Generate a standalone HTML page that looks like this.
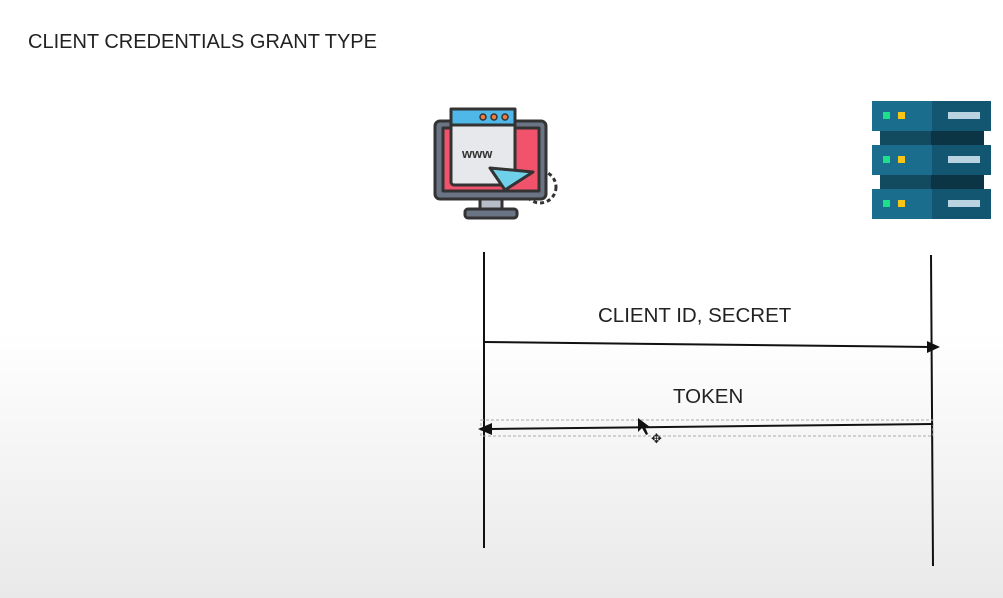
<!DOCTYPE html>
<html><head><style>
body{margin:0;width:1003px;height:598px;overflow:hidden;background:linear-gradient(#fff 0,#fff 330px,#ececec 560px,#e9e9e9 598px);font-family:"Liberation Sans",sans-serif;}
.t{position:absolute;color:#222;font-size:20.5px;}
</style></head><body>
<div class="t" style="left:28px;top:31px;font-size:20px;">CLIENT CREDENTIALS GRANT TYPE</div>
<svg width="1003" height="598" style="position:absolute;left:0;top:0">
<!-- computer icon -->
<circle cx="540" cy="187" r="16" fill="none" stroke="#333" stroke-width="3" stroke-dasharray="4 3"/>
<g stroke="#333" stroke-width="3" stroke-linejoin="round">
<rect x="435" y="121" width="111" height="78" rx="5" fill="#6b7484"/>
<rect x="443" y="128" width="96" height="63" fill="#f0536b"/>
<rect x="480" y="199" width="22" height="11" fill="#b8bec8"/>
<rect x="465" y="209" width="52" height="9" rx="3" fill="#6b7484"/>
<rect x="451" y="109" width="64" height="76" rx="3" fill="#e6e8ec"/>
<rect x="451" y="109" width="64" height="16" fill="#4fb8e8"/>
<path d="M490 168 L533 172 L505 190 Z" fill="#6fd0ea"/>
</g>
<circle cx="483" cy="117" r="3" fill="#f07d3c" stroke="#333" stroke-width="1.5"/>
<circle cx="494" cy="117" r="3" fill="#f07d3c" stroke="#333" stroke-width="1.5"/>
<circle cx="505" cy="117" r="3" fill="#f07d3c" stroke="#333" stroke-width="1.5"/>
<text x="462" y="158" font-size="13" font-weight="bold" fill="#333" font-family="Liberation Sans">www</text>
<!-- server -->
<rect x="880" y="130" width="104" height="16" fill="#124a60"/>
<rect x="931" y="130" width="53" height="16" fill="#0b3445"/>
<rect x="880" y="174" width="104" height="16" fill="#124a60"/>
<rect x="931" y="174" width="53" height="16" fill="#0b3445"/>
<g>
<rect x="872" y="101" width="60" height="30" fill="#1b6d8e"/><rect x="932" y="101" width="59" height="30" fill="#125672"/>
<rect x="872" y="145" width="60" height="30" fill="#1b6d8e"/><rect x="932" y="145" width="59" height="30" fill="#125672"/>
<rect x="872" y="189" width="60" height="30" fill="#1b6d8e"/><rect x="932" y="189" width="59" height="30" fill="#125672"/>
</g>
<g fill="#1fe08a"><rect x="883" y="112" width="7" height="7"/><rect x="883" y="156" width="7" height="7"/><rect x="883" y="200" width="7" height="7"/></g>
<g fill="#f5c518"><rect x="898" y="112" width="7" height="7"/><rect x="898" y="156" width="7" height="7"/><rect x="898" y="200" width="7" height="7"/></g>
<g fill="#b9d4e0"><rect x="948" y="112" width="32" height="7"/><rect x="948" y="156" width="32" height="7"/><rect x="948" y="200" width="32" height="7"/></g>
<!-- lifelines -->
<line x1="484" y1="252" x2="484" y2="548" stroke="#111" stroke-width="2"/>
<line x1="931" y1="255" x2="933" y2="566" stroke="#111" stroke-width="2"/>
<!-- arrows -->
<line x1="484" y1="342" x2="930" y2="347" stroke="#111" stroke-width="2"/>
<path d="M940 347 L927 341 L927 353 Z" fill="#111"/>
<rect x="481" y="420" width="452" height="16" fill="none" stroke="#aaa" stroke-width="1" stroke-dasharray="3 2"/>
<line x1="490" y1="429" x2="933" y2="424" stroke="#111" stroke-width="2"/>
<path d="M478 429 L492 423 L492 435 Z" fill="#111"/>
<path d="M638 418 L638 432 L642 428 L646 435 L648 434 L645 427 L650 427 Z" fill="#111"/>
<text x="651" y="443" font-size="13" fill="#222">✥</text>
</svg>
<div class="t" style="left:598px;top:304px;">CLIENT ID, SECRET</div>
<div class="t" style="left:673px;top:385px;">TOKEN</div>
</body></html>
